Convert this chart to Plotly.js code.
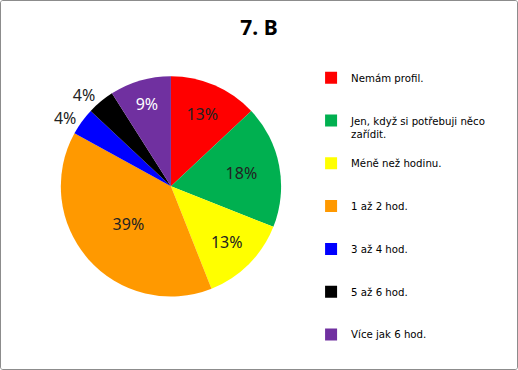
<!DOCTYPE html>
<html>
<head>
<meta charset="utf-8">
<script src="https://cdn.plot.ly/plotly-3.0.1.min.js"></script>
<style>
html,body{margin:0;padding:0;background:#fff;}
#frame{width:516px;height:368px;border:1px solid #8c8c8c;border-radius:3px;overflow:hidden;}
#chart{width:516px;height:368px;}
</style>
</head>
<body>
<div id="frame"><div id="chart"></div></div>
<script>
const categories = ["Nemám profil.", "Jen, když si potřebuji něco<br>zařídit.", "Méně než hodinu.", "1 až 2 hod.", "3 až 4 hod.", "5 až 6 hod.", "Více jak 6 hod."];
const values = [13, 18, 13, 39, 4, 4, 9];
const colors = ["#FF0000", "#00B050", "#FFFF00", "#FF9900", "#0000FF", "#000000", "#7030A0"];
const textColors = ["#222", "#222", "#222", "#222", "#222", "#222", "#ffffff"];
const textPos = ["inside", "inside", "inside", "inside", "outside", "outside", "inside"];

// pad legend entries with blank lines for spacing
const legendLabels = categories.map(c => {
  const n = c.split("<br>").length;
  return c + "<br> ".repeat(3 - n);
});

const trace = {
  type: "pie",
  labels: legendLabels,
  values: values,
  sort: false,
  direction: "clockwise",
  rotation: 0,
  marker: {colors: colors, line: {color: "#ffffff", width: 0}},
  textinfo: "percent",
  texttemplate: "%{percent:.0%}",
  textposition: textPos,
  insidetextorientation: "horizontal",
  textfont: {family: "Noto Sans, sans-serif", size: 16, color: textColors},
  outsidetextfont: {family: "Noto Sans, sans-serif", size: 16, color: "#222"},
  domain: {x: [0.0, 0.645], y: [0.19, 0.917]},
  hoverinfo: "label+percent"
};

const layout = {
  width: 516,
  height: 368,
  margin: {l: 10, r: 10, t: 50, b: 15, autoexpand: false},
  paper_bgcolor: "#ffffff",
  title: {text: "<b>7. B</b>", x: 0.5, xanchor: "center", y: 0.948, font: {family: "Noto Sans, sans-serif", size: 21, color: "#000"}},
  showlegend: true,
  legend: {
    x: 0.605, y: 0.955, xanchor: "left", yanchor: "top",
    valign: "top",
    maxheight: 340,
    font: {family: "DejaVu Sans, sans-serif", size: 10.2, color: "#000"},
    itemwidth: 30,
    tracegroupgap: 0
  }
};

Plotly.newPlot("chart", [trace], layout, {displayModeBar: false, staticPlot: true});
</script>
</body>
</html>
